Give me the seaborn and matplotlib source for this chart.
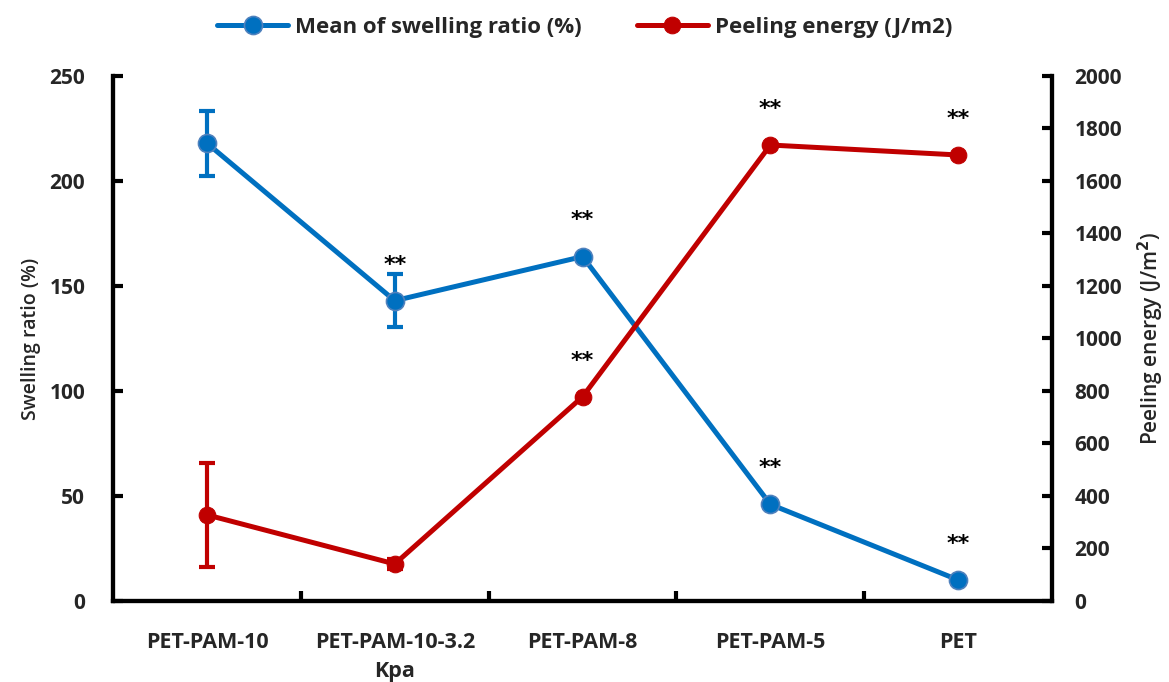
import numpy as np
import pandas as pd
import seaborn as sns
import matplotlib.pyplot as plt

# Samples
samples = ["PET-PAM-10", "PET-PAM-10-3.2\nKpa", "PET-PAM-8", "PET-PAM-5", "PET"]

# Swelling ratio (%) with standard deviation
swelling_mean = [218, 143, 164, 46, 10]
swelling_err = [15.5, 12.5, 0, 0, 0]

# Peeling energy (J/m2) with standard deviation
peeling_mean = [328, 141, 778, 1737, 1699]
peeling_err = [198, 20, 0, 0, 0]

# Significance marks
swelling_sig = ["", "**", "**", "**", "**"]
peeling_sig = ["", "", "**", "**", "**"]

blue = "#0070C0"
red = "#C00000"

sns.set_theme(style="white")
plt.rcParams["font.family"] = ["Open Sans", "DejaVu Sans"]
plt.rcParams["font.weight"] = "bold"

df = pd.DataFrame({
    "pos": np.arange(len(samples)),
    "swelling": swelling_mean,
    "peeling": peeling_mean,
})

fig = plt.figure(figsize=(11.69, 6.82), dpi=100)
ax = fig.add_axes([0.0967, 0.1188, 0.8033, 0.7698])
ax2 = ax.twinx()

sns.lineplot(data=df, x="pos", y="swelling", ax=ax, color=blue, lw=3.6,
             marker="o", markersize=13, markeredgecolor="#4F81BD",
             markeredgewidth=1.2, label="Mean of swelling ratio (%)",
             legend=False, zorder=3)
ax.errorbar(df["pos"], df["swelling"], yerr=swelling_err, fmt="none",
            ecolor=blue, elinewidth=3, capsize=6, capthick=3, zorder=2)

sns.lineplot(data=df, x="pos", y="peeling", ax=ax2, color=red, lw=3.6,
             marker="o", markersize=12, markeredgecolor=red,
             label="Peeling energy (J/m2)", legend=False, zorder=3)
ax2.errorbar(df["pos"], df["peeling"], yerr=peeling_err, fmt="none",
             ecolor=red, elinewidth=3, capsize=6, capthick=3, zorder=2)

# Significance asterisks above each point
for x, y, s in zip(df["pos"], swelling_mean, swelling_sig):
    if s:
        ax.annotate(s, (x, y), xytext=(0, 26), textcoords="offset points",
                    ha="center", va="center", fontsize=16, color="black",
                    family="DejaVu Sans", fontweight="bold")
for x, y, s in zip(df["pos"], peeling_mean, peeling_sig):
    if s:
        ax2.annotate(s, (x, y), xytext=(0, 26), textcoords="offset points",
                     ha="center", va="center", fontsize=16, color="black",
                     family="DejaVu Sans", fontweight="bold")

# Axes limits and ticks
ax.set_xlim(-0.5, len(samples) - 0.5)
ax.set_ylim(0, 250)
ax2.set_ylim(0, 2000)
ax.set_yticks(np.arange(0, 251, 50))
ax2.set_yticks(np.arange(0, 2001, 200))

ax.set_xticks(np.arange(0.5, len(samples) - 0.5, 1))
ax.set_xticklabels([])
ax.set_xticks(np.arange(len(samples)), minor=True)
ax.set_xticklabels(samples, minor=True, fontsize=15.5, fontweight="bold",
                   linespacing=1.55)
ax.tick_params(axis="x", which="major", direction="in", length=7, width=3,
               color="black", bottom=True)
ax.tick_params(axis="x", which="minor", length=0, pad=22)
ax.tick_params(axis="y", direction="in", length=7, width=3, color="black",
               left=True, labelsize=15, pad=20)
ax2.tick_params(axis="y", direction="in", length=7, width=3, color="black",
                right=True, labelsize=15, pad=16)
for lab in ax.get_yticklabels() + ax2.get_yticklabels():
    lab.set_fontweight("bold")

ax.set_xlabel("")
ax.set_ylabel("Swelling ratio (%)", fontsize=14, fontweight="semibold",
              labelpad=6)
ax2.set_ylabel("Peeling energy (J/m$^2$)", fontsize=15,
               fontweight="semibold", labelpad=10)

for a in (ax, ax2):
    a.spines["top"].set_visible(False)
    for side in ("left", "right", "bottom"):
        a.spines[side].set_linewidth(3)
        a.spines[side].set_color("black")
ax.grid(False)
ax2.grid(False)

handles = ax.get_lines()[:1] + ax2.get_lines()[:1]
fig.legend(handles, [h.get_label() for h in handles], loc="upper center",
           bbox_to_anchor=(0.5, 1.005), ncol=2, frameon=False,
           handlelength=3.2, handletextpad=0.3, columnspacing=2.5,
           prop={"weight": "bold", "size": 16})

fig.savefig("out.png", dpi=100)
